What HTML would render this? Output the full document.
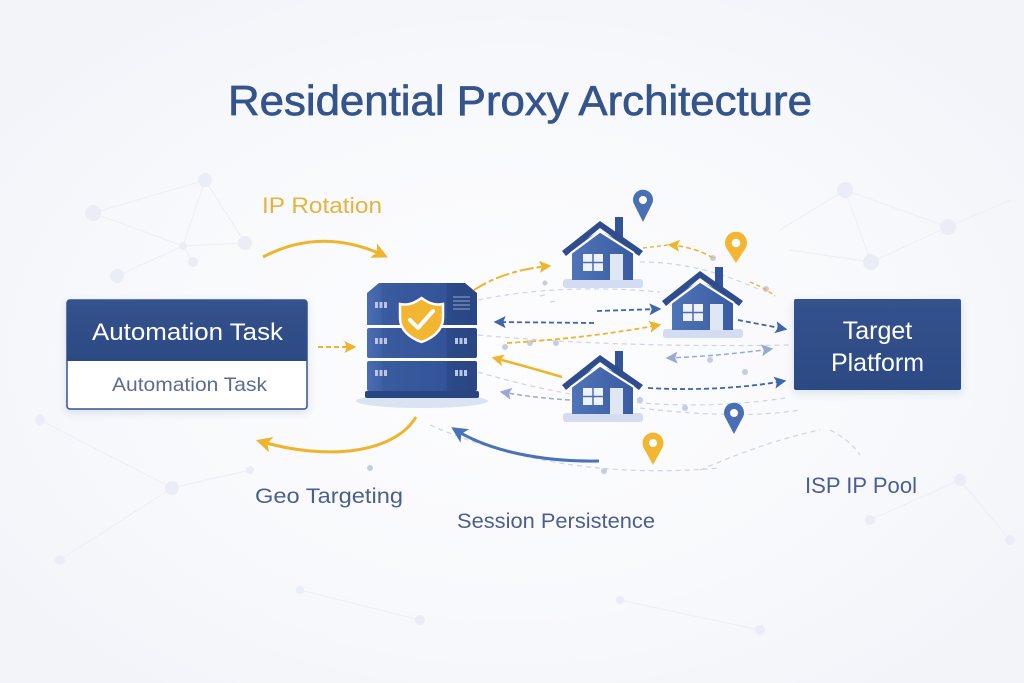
<!DOCTYPE html>
<html><head><meta charset="utf-8"><style>
html,body{margin:0;padding:0;background:#f6f7fb;}
svg{display:block;}
text{font-family:"Liberation Sans",Arial,sans-serif;}
</style></head><body>
<svg width="1024" height="683" viewBox="0 0 1024 683" xmlns="http://www.w3.org/2000/svg">
<defs>
<radialGradient id="bg" cx="50%" cy="52%" r="62%">
<stop offset="0" stop-color="#fdfdff"/><stop offset="0.6" stop-color="#f8f9fc"/><stop offset="1" stop-color="#f2f4f9"/>
</radialGradient>
<linearGradient id="srv" x1="0" x2="1" y1="0" y2="0">
<stop offset="0" stop-color="#4b6db1"/><stop offset="0.13" stop-color="#3f61a6"/><stop offset="0.14" stop-color="#3a5b9e"/><stop offset="0.72" stop-color="#34549a"/><stop offset="0.73" stop-color="#2c4a88"/><stop offset="1" stop-color="#2a4683"/>
</linearGradient>
<linearGradient id="hb" x1="0" x2="1" y1="0" y2="0">
<stop offset="0" stop-color="#5074b8"/><stop offset="1" stop-color="#3a5ca2"/>
</linearGradient>
<linearGradient id="box" x1="0" x2="0" y1="0" y2="1">
<stop offset="0" stop-color="#34528d"/><stop offset="1" stop-color="#2c4a84"/>
</linearGradient>
<filter id="sh" x="-20%" y="-20%" width="140%" height="150%"><feDropShadow dx="0" dy="3" stdDeviation="4" flood-color="#2c4a84" flood-opacity="0.15"/></filter>
<marker id="ay" viewBox="0 0 10 10" refX="8" refY="5" markerWidth="16" markerHeight="16" orient="auto" markerUnits="userSpaceOnUse"><path d="M0,0 L10,5 L0,10 L2.5,5 Z" fill="#f0b42c"/></marker>
<marker id="ays" viewBox="0 0 10 10" refX="8" refY="5" markerWidth="12" markerHeight="12" orient="auto" markerUnits="userSpaceOnUse"><path d="M0,0 L10,5 L0,10 L2,5 Z" fill="#f0b42c"/></marker>
<marker id="ab" viewBox="0 0 10 10" refX="8" refY="5" markerWidth="16" markerHeight="16" orient="auto" markerUnits="userSpaceOnUse"><path d="M0,0 L10,5 L0,10 L2.5,5 Z" fill="#4a72b8"/></marker>
<marker id="abs" viewBox="0 0 10 10" refX="8" refY="5" markerWidth="12" markerHeight="12" orient="auto" markerUnits="userSpaceOnUse"><path d="M0,0 L10,5 L0,10 L2,5 Z" fill="#3f65ad"/></marker>
<marker id="ag" viewBox="0 0 10 10" refX="8" refY="5" markerWidth="12" markerHeight="12" orient="auto" markerUnits="userSpaceOnUse"><path d="M0,0 L10,5 L0,10 L2,5 Z" fill="#9aa9d3"/></marker>
<marker id="ags" viewBox="0 0 10 10" refX="2" refY="5" markerWidth="12" markerHeight="12" orient="auto" markerUnits="userSpaceOnUse"><path d="M10,0 L0,5 L10,10 L8,5 Z" fill="#9aa9d3"/></marker>
<g id="house">
<rect x="-37" y="56" width="80" height="9" rx="3" fill="#cbd6ee" opacity="0.85"/>
<rect x="15" y="-6" width="8" height="24" fill="#34549a"/>
<path d="M-28,57 L-28,24 L0,8 L33,24 L33,57 Z" fill="url(#hb)"/>
<path d="M-38,28 L0,-2 L43,28 L39,33 L0,5 L-34,33 Z" fill="#2f4d8c"/>
<polyline points="-29,30 0,8.5 34,30" fill="none" stroke="#ffffff" stroke-width="2.2"/>
<rect x="-17" y="31" width="20" height="17" fill="#eef2fa"/>
<line x1="-7" y1="31" x2="-7" y2="48" stroke="#4a6db3" stroke-width="1.5"/>
<line x1="-17" y1="39.5" x2="3" y2="39.5" stroke="#4a6db3" stroke-width="1.5"/>
<rect x="10" y="31" width="13" height="26" fill="#dfe6f4"/>
</g>
</defs>

<rect width="1024" height="683" fill="url(#bg)"/>

<!-- background network (very faint) -->
<g stroke="#eef0f7" stroke-width="1.2" fill="none">
<path d="M93,213 L205,180 L183,246 L93,213 M183,246 L245,243 M183,246 L117,276 M205,180 L245,243 M183,246 L193,262"/>
<path d="M845,190 L948,227 L871,262 L845,190 M845,190 L780,230 M871,262 L790,250 M948,227 L1010,200"/>
<path d="M40,420 L172,488 L250,470 M60,560 L172,488 M870,520 L960,480 L1010,540 M300,590 L420,620 M620,600 L760,630"/>
</g>
<g fill="#eaedf5">
<circle cx="93" cy="213" r="8"/><circle cx="205" cy="180" r="7"/><circle cx="183" cy="246" r="4"/><circle cx="117" cy="276" r="7"/><circle cx="245" cy="243" r="7"/><circle cx="193" cy="262" r="5"/>
<circle cx="845" cy="190" r="8"/><circle cx="948" cy="227" r="8"/><circle cx="871" cy="262" r="8"/>
<circle cx="40" cy="420" r="5"/><circle cx="172" cy="488" r="7"/><circle cx="250" cy="470" r="4"/><circle cx="60" cy="560" r="5"/>
<circle cx="870" cy="520" r="5"/><circle cx="960" cy="480" r="6"/><circle cx="1010" cy="540" r="5"/>
<circle cx="300" cy="590" r="4"/><circle cx="420" cy="620" r="5"/><circle cx="620" cy="600" r="4"/><circle cx="760" cy="630" r="5"/>
</g>

<!-- Title -->
<text x="228" y="115" font-size="42" fill="#35548a" stroke="#35548a" stroke-width="0.7" textLength="584" lengthAdjust="spacingAndGlyphs">Residential Proxy Architecture</text>

<!-- faint orbit dashed lines -->
<g fill="none" stroke="#cdd4e5" stroke-width="1.2" stroke-dasharray="5 4">
<path d="M478,300 Q560,283 660,292"/>
<path d="M640,262 Q700,262 760,290"/>
<path d="M478,335 Q620,348 790,345"/>
<path d="M478,372 Q640,420 785,398"/>
<path d="M430,425 Q560,482 720,468"/>
<path d="M640,408 Q740,420 800,410"/>
<path d="M700,470 Q770,440 820,430"/>
<path d="M540,296 L548,294 M550,302 L556,301"/>
<path d="M830,430 Q850,440 860,455"/>
</g>
<g fill="#c6cde1">
<circle cx="545" cy="283" r="2.5"/><circle cx="713" cy="258" r="3"/><circle cx="766" cy="289" r="3"/>
<circle cx="530" cy="343" r="3"/><circle cx="556" cy="343" r="3"/><circle cx="710" cy="360" r="3"/>
<circle cx="745" cy="372" r="3"/><circle cx="640" cy="400" r="3"/><circle cx="685" cy="408" r="3"/>
<circle cx="505" cy="347" r="3"/><circle cx="604" cy="471" r="3"/><circle cx="370" cy="468" r="3"/>
</g>

<!-- Automation Task box -->
<g filter="url(#sh)">
<rect x="67" y="300" width="240" height="109" rx="3" fill="#ffffff" stroke="#34528d" stroke-width="1.5"/>
<path d="M67,303 Q67,300 70,300 L304,300 Q307,300 307,303 L307,361 L67,361 Z" fill="url(#box)"/>
</g>
<text x="92" y="340" font-size="24" fill="#ffffff" textLength="191" lengthAdjust="spacingAndGlyphs">Automation Task</text>
<text x="112" y="391" font-size="19.5" fill="#5b6b93" textLength="155" lengthAdjust="spacingAndGlyphs">Automation Task</text>

<!-- Target Platform box -->
<rect x="794" y="299" width="167" height="91" rx="2" fill="url(#box)" filter="url(#sh)"/>
<text x="877.5" y="339" font-size="25" fill="#ffffff" text-anchor="middle">Target</text>
<text x="877.5" y="371" font-size="25" fill="#ffffff" text-anchor="middle">Platform</text>

<!-- server -->
<ellipse cx="422" cy="401" rx="66" ry="7" fill="#dbe2f1"/>
<path d="M367,293 L379,283 L465,283 L477,293 L477,325 L367,325 Z" fill="url(#srv)"/>
<rect x="367" y="328" width="110" height="30" rx="2" fill="url(#srv)"/>
<rect x="367" y="361" width="110" height="30" rx="2" fill="url(#srv)"/>
<rect x="365" y="391" width="114" height="7" rx="2" fill="#2a4682"/>
<g fill="#b7c6e6">
<rect x="375" y="302" width="3" height="6"/><rect x="379.5" y="302" width="3" height="6"/><rect x="384" y="302" width="3" height="6"/>
<rect x="375" y="338" width="3" height="6"/><rect x="379.5" y="338" width="3" height="6"/><rect x="384" y="338" width="3" height="6"/>
<rect x="455" y="338" width="3" height="6"/><rect x="459.5" y="338" width="3" height="6"/><rect x="464" y="338" width="3" height="6"/>
<rect x="375" y="370" width="3" height="6"/><rect x="379.5" y="370" width="3" height="6"/><rect x="384" y="370" width="3" height="6"/>
<rect x="455" y="370" width="3" height="6"/><rect x="459.5" y="370" width="3" height="6"/><rect x="464" y="370" width="3" height="6"/>
</g>
<g stroke="#7d95c6" stroke-width="1.2">
<line x1="453" y1="297" x2="470" y2="297"/><line x1="453" y1="301" x2="470" y2="301"/><line x1="453" y1="305" x2="470" y2="305"/><line x1="453" y1="309" x2="470" y2="309"/>
</g>
<path d="M421.5,298 C412,305 406,305 400,304 L400,318 C400,330 410,338 421.5,342 C433,338 443,330 443,318 L443,304 C437,305 431,305 421.5,298 Z" fill="#f2b632" stroke="#ffffff" stroke-width="2.5"/>
<path d="M410,320 L418,328 L433,311" fill="none" stroke="#ffffff" stroke-width="4" stroke-linecap="round" stroke-linejoin="round"/>

<!-- houses -->
<use href="#house" x="600" y="223"/>
<use href="#house" x="700" y="273"/>
<use href="#house" x="600" y="357"/>

<!-- pins -->
<g>
<path d="M643,222 L634.5,205 A10,10 0 1,1 651.5,205 Z" fill="#4a6fb4"/><circle cx="643" cy="200" r="4" fill="#fff"/>
<path d="M736,263 L726.6,248.5 A11,11 0 1,1 745.4,248.5 Z" fill="#f2b632"/><circle cx="736" cy="243" r="4.3" fill="#fff"/>
<path d="M734,434 L725.5,418 A10,10 0 1,1 742.5,418 Z" fill="#4a6fb4"/><circle cx="734" cy="413" r="4" fill="#fff"/>
<path d="M653,465 L644,448.5 A10.5,10.5 0 1,1 662,448.5 Z" fill="#f2b632"/><circle cx="653" cy="443" r="4" fill="#fff"/>
</g>

<!-- main arrows -->
<path d="M263,257 Q322,226 385,256" fill="none" stroke="#f0b42c" stroke-width="3" marker-end="url(#ay)"/>
<path d="M318,347 L354,347" fill="none" stroke="#f0b42c" stroke-width="2" stroke-dasharray="5 3" marker-end="url(#ays)"/>
<path d="M474,290 Q505,270 549,266" fill="none" stroke="#f0b42c" stroke-width="2" stroke-dasharray="14 3 5 3" marker-end="url(#ays)"/>
<path d="M416,417 C395,452 330,462 259,441" fill="none" stroke="#f0b42c" stroke-width="3" marker-end="url(#ay)"/>
<path d="M599,461 C545,462 490,452 454,429" fill="none" stroke="#4a72b8" stroke-width="3" marker-end="url(#ab)"/>

<!-- house links -->
<path d="M594,323 L496,322" fill="none" stroke="#3f65ad" stroke-width="1.8" stroke-dasharray="5 3" marker-end="url(#abs)"/>
<path d="M597,311 L659,309" fill="none" stroke="#3f65ad" stroke-width="1.8" stroke-dasharray="5 3" marker-end="url(#abs)"/>
<path d="M507,343 Q590,338 659,325" fill="none" stroke="#f0b42c" stroke-width="1.8" stroke-dasharray="5 3" marker-end="url(#ays)"/>
<path d="M562,377 Q525,366 494,358" fill="none" stroke="#f0b42c" stroke-width="2.5" marker-end="url(#ays)"/>
<path d="M738,320 L785,329" fill="none" stroke="#3f65ad" stroke-width="1.8" stroke-dasharray="5 3" marker-end="url(#abs)"/>
<path d="M668,358 Q720,356 771,349" fill="none" stroke="#9aa9d3" stroke-width="1.5" stroke-dasharray="5 3" marker-start="url(#ags)" marker-end="url(#ag)"/>
<path d="M648,388 Q720,392 784,381" fill="none" stroke="#3f65ad" stroke-width="1.8" stroke-dasharray="5 3" marker-end="url(#abs)"/>
<path d="M570,400 Q535,398 502,392" fill="none" stroke="#9aa9d3" stroke-width="1.5" stroke-dasharray="5 3" marker-end="url(#ag)"/>
<path d="M713,258 Q695,247 670,245" fill="none" stroke="#f0b42c" stroke-width="1.6" stroke-dasharray="5 3" marker-end="url(#ays)"/>
<path d="M643,248 L668,245" fill="none" stroke="#f0b42c" stroke-width="1.4" stroke-dasharray="4 3"/>
<path d="M750,282 Q765,288 775,296" fill="none" stroke="#f0b42c" stroke-width="1.4" stroke-dasharray="4 3"/>

<!-- labels -->
<text x="262" y="213" font-size="22" fill="#e8b23e" textLength="120" lengthAdjust="spacingAndGlyphs">IP Rotation</text>
<text x="255" y="503" font-size="21" fill="#4b5f8e" textLength="148" lengthAdjust="spacingAndGlyphs">Geo Targeting</text>
<text x="457" y="528" font-size="21" fill="#4b5f8e" textLength="198" lengthAdjust="spacingAndGlyphs">Session Persistence</text>
<text x="805" y="493" font-size="22" fill="#4b5f8e" textLength="112" lengthAdjust="spacingAndGlyphs">ISP IP Pool</text>
</svg>
</body></html>
